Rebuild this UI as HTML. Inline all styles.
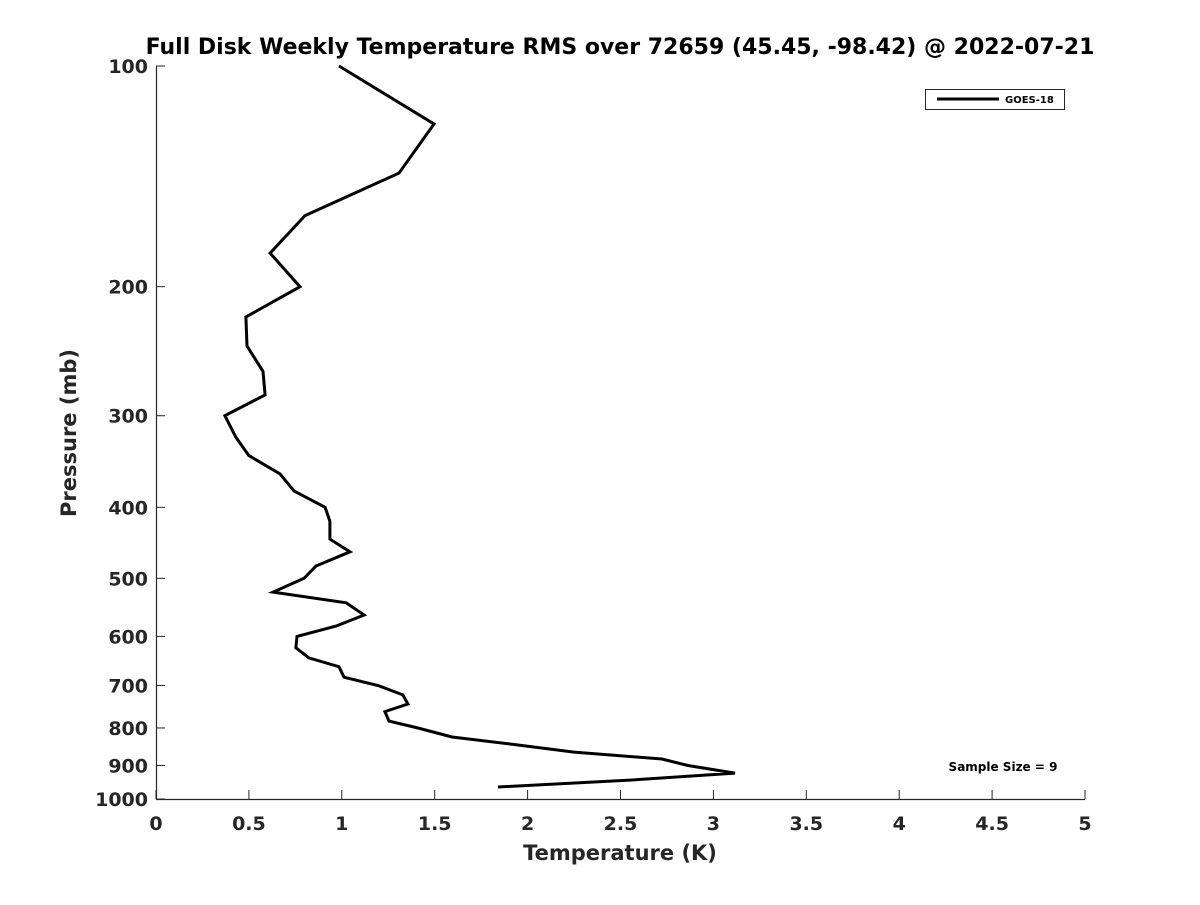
<!DOCTYPE html>
<html><head><meta charset="utf-8"><style>
body{margin:0;background:#fff}
svg text{font-family:"DejaVu Sans","Liberation Sans",sans-serif;font-weight:bold;fill:#262626}
</style></head><body>
<svg id="chart" width="1200" height="900" xmlns="http://www.w3.org/2000/svg">
<text x="620" y="54" text-anchor="middle" font-size="22" style="fill:#000">Full Disk Weekly Temperature RMS over 72659 (45.45, -98.42) @ 2022-07-21</text>
<g id="axes"></g>
<path id="series" fill="none" stroke="#000" stroke-width="3" stroke-linejoin="miter"/>
<g>
<rect x="925.5" y="89.5" width="139" height="20" fill="#fff" stroke="#262626" stroke-width="1"/>
<line x1="937" y1="99" x2="999" y2="99" stroke="#000" stroke-width="3"/>
<text x="1005" y="103" font-size="10" style="fill:#000">GOES-18</text>
</g>
<text x="1003" y="771" text-anchor="middle" font-size="12" style="fill:#000">Sample Size = 9</text>
<text x="620" y="860" text-anchor="middle" font-size="21">Temperature (K)</text>
<text transform="translate(76,433) rotate(-90)" text-anchor="middle" font-size="21">Pressure (mb)</text>
</svg>
<script>
const temps=[0.985,1.496,1.308,0.802,0.614,0.775,0.484,0.49,0.576,0.587,0.371,0.43,0.5,0.667,0.743,0.91,0.936,0.936,1.044,0.861,0.797,0.63,1.023,1.12,0.969,0.759,0.753,0.823,0.985,1.012,1.195,1.329,1.356,1.232,1.254,1.41,1.593,1.948,2.25,2.723,2.863,3.116,2.562,1.84];
const pressures=[100,120,140,160,180,200,220,241,261,281,300,321,340,360,380,400,418,442,460,481,500,522,540,561,581,600,622,642,660,682,700,721,742,760,783,800,823,844,863,882,900,922,942,963];
const xTicks=[0,0.5,1,1.5,2,2.5,3,3.5,4,4.5,5];
const xTickLabels=["0","0.5","1","1.5","2","2.5","3","3.5","4","4.5","5"];
const yTicks=[100,200,300,400,500,600,700,800,900,1000];
const yTickLabels=["100","200","300","400","500","600","700","800","900","1000"];
const X0=156,X1=1085,Y0=66,Y1=799;
const xs=v=>X0+(v-0)/(5-0)*(X1-X0);
const ys=p=>Y0+Math.log10(p/100)*(Y1-Y0);
const NS="http://www.w3.org/2000/svg";
const ax=document.getElementById('axes');
function mk(t,a){const e=document.createElementNS(NS,t);for(const k in a)e.setAttribute(k,a[k]);ax.appendChild(e);return e;}
let e=mk('line',{x1:X0,y1:Y1+0.5,x2:X1,y2:Y1+0.5,stroke:'#262626','stroke-width':1.2});


e=mk('line',{x1:X0+0.5,y1:Y0,x2:X0+0.5,y2:Y1,stroke:'#262626','stroke-width':1.2});


xTicks.forEach((v,i)=>{const x=xs(v);
 mk('line',{x1:x,y1:Y1,x2:x,y2:Y1-9,stroke:'#262626','stroke-width':1});
 const t=mk('text',{x:x,y:Y1+31,'text-anchor':'middle','font-size':19});t.textContent=xTickLabels[i];
 
 
});
yTicks.forEach((v,i)=>{const y=ys(v);
 mk('line',{x1:X0,y1:y,x2:X0+9,y2:y,stroke:'#262626','stroke-width':1});
 const t=mk('text',{x:X0-8,y:y+7,'text-anchor':'end','font-size':19});t.textContent=yTickLabels[i];
 
 
});
document.getElementById('series').setAttribute('d',temps.map((t,i)=>(i?'L':'M')+xs(t).toFixed(1)+','+ys(pressures[i]).toFixed(1)).join(''));
</script>
</body></html>
